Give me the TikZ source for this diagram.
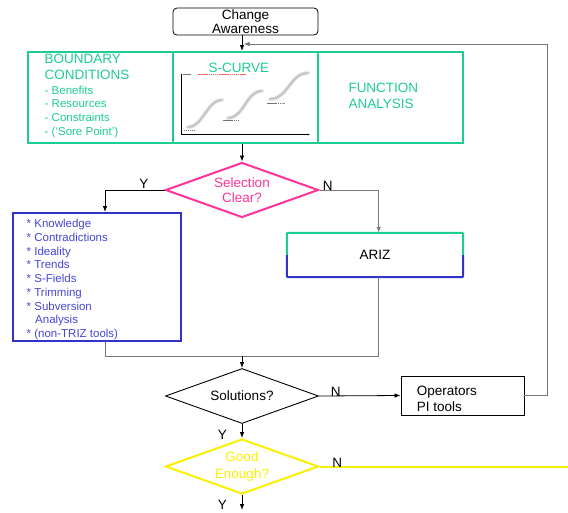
\documentclass[tikz,border=0pt]{standalone}
\usepackage{fontspec}
\setmainfont{Liberation Sans}
\usetikzlibrary{shapes.geometric,arrows.meta}
\definecolor{tealc}{RGB}{30,204,150}
\definecolor{pinkc}{RGB}{255,51,153}
\definecolor{bluec}{RGB}{51,51,204}
\definecolor{bluet}{RGB}{70,70,215}
\definecolor{yellowc}{RGB}{250,240,0}
\definecolor{linec}{RGB}{120,120,120}
\newcommand{\bigtxt}{\fontsize{13.5}{15.2}\selectfont}
\newcommand{\smalltxt}{\fontsize{11.5}{13.75}\selectfont}
\begin{document}
\begin{tikzpicture}[x=1pt,y=-1pt,
  tip/.style={-{Latex[length=6pt,width=4.5pt]}},
  conn/.style={draw=black, line width=0.8pt},
  gconn/.style={draw=linec, line width=1pt},
  tealbox/.style={draw=tealc, line width=2pt, minimum width=145pt, minimum height=91pt, inner sep=0pt},
  txt/.style={inner sep=0pt, font=\bigtxt},
  lbl/.style={inner sep=0pt, font=\bigtxt, anchor=base},
  dia/.style={diamond, aspect=2.8, minimum width=153pt, minimum height=55pt, inner sep=0pt, align=center, font=\bigtxt},
  curve/.style={line cap=round},
  scrib/.style={line width=0.7pt, dash pattern=on 1.5pt off 0.6pt}
]
\useasboundingbox (0,0) rectangle (568,512);

% start node
\node[draw=black, line width=0.8pt, rounded corners=4pt, minimum width=145pt, minimum height=27pt,
      inner sep=0pt, align=center, font=\bigtxt] (aware) at (245.5,21.5) {Change\\[-1pt]Awareness};

% three teal panels
\node[tealbox] (bc) at (100.5,97.5) {};
\node[tealbox] (sc) at (245.5,97.5) {};
\node[tealbox] (fa) at (390.5,97.5) {};

\node[txt, anchor=north west, align=left, text=tealc] (bctitle) at (44.5,54.3)
  {BOUNDARY\\CONDITIONS};
\node[inner sep=0pt, font=\smalltxt, anchor=north west, align=left, text=tealc] (bclist) at (44.5,85.6)
  {- Benefits\\- Resources\\- Constraints\\- (‘Sore Point’)};
\node[lbl, text=tealc] (sctitle) at (239,72) {S-CURVE};
\node[inner sep=0pt, font=\fontsize{13.5}{16.3}\selectfont, anchor=north west, align=left, text=tealc] (fatitle) at (348.3,83)
  {FUNCTION\\ANALYSIS};

% small S-curve chart
\draw[line width=1pt] (181.5,74) -- (181.5,134.5) -- (308,134.5);
\draw[line width=0.6pt, -{Latex[length=2.5pt,width=2pt]}] (300,134.5) -- (310,134.5);
\foreach \p/\q/\c/\d in {{188,127}/{222,100}/{203,127}/{207,100},
                         {228,118}/{262,91}/{244,118}/{246,91},
                         {270,99}/{308,73}/{288,99}/{290,73}}{
  \draw[curve, gray!12, line width=4.5pt] (\p) .. controls (\c) and (\d) .. (\q);
  \draw[curve, gray!30, line width=2.8pt] (\p) .. controls (\c) and (\d) .. (\q);
  \draw[curve, gray!50, line width=1.2pt] (\p) .. controls (\c) and (\d) .. (\q);
}
\draw[scrib, black!55] (183.5,130.5) -- (194.5,130.5);
\draw[scrib, black!55] (223,120) -- (238,120);
\draw[scrib, black!55] (267,103) -- (281,103);
\draw[line width=0.5pt, black!40, dash pattern=on 0.6pt off 0.8pt] (281.5,103) -- (285,103);
\draw[scrib, black!55] (183,74.7) -- (190.5,74.7);
\draw[scrib, red!60] (198,74.7) -- (245.5,74.7);

% decisions
\node[dia, draw=pinkc, line width=2pt, text=pinkc] (sel) at (242,190) {Selection\\Clear?};
\node[dia, draw=black, line width=0.9pt] (sol) at (242,396) {Solutions?};
\node[dia, draw=yellowc, line width=2pt, text=yellowc] (good) at (242,466.5) {Good\\[1.5pt]Enough?};

% tool list box
\node[draw=bluec, line width=2pt, minimum width=168pt, minimum height=128pt, inner sep=0pt] (tools) at (96.8,277) {};
\node[inner sep=0pt, font=\smalltxt, anchor=north west, align=left, text=bluet] (toolslist) at (26.5,219)
  {* Knowledge\\* Contradictions\\* Ideality\\* Trends\\* S-Fields\\* Trimming\\* Subversion\\\hspace*{8.5pt}Analysis\\* (non-TRIZ tools)};

% ARIZ box with two-coloured outline
\node[minimum width=176pt, minimum height=44pt, inner sep=0pt, font=\bigtxt] (ariz) at (375,255) {\raisebox{-1.5pt}{ARIZ}};
\draw[tealc, line width=2pt, rounded corners=1pt] (ariz.west) -- (ariz.north west) -- (ariz.north east) -- (ariz.east);
\draw[bluec, line width=2pt, rounded corners=1pt] (ariz.west) -- (ariz.south west) -- (ariz.south east) -- (ariz.east);

% operators box
\node[draw=black, line width=0.9pt, minimum width=123pt, minimum height=39pt, inner sep=0pt] (ops) at (462.5,395.5) {};
\node[inner sep=0pt, font=\bigtxt, anchor=north west, align=left] (opstext) at (416.7,385.8)
  {Operators\\[0.6pt]PI tools};

% junction points
\coordinate (fbend) at (243.5,44);
\coordinate (yturn) at (105,190);
\coordinate (ajoin) at (378.7,356);
\coordinate (merge) at (242,356);
\coordinate (gedge) at (568,466.5);

% connectors
\draw[conn, tip] (aware.south -| sel.north) -- (sel.north |- sc.north);
\draw[gconn, tip] (ops.east) -- ++(23,0) |- (fbend);
\draw[conn, tip] (sel.north |- sc.south) -- (sel.north);
\draw[conn, tip] (sel.west) -- (yturn) -- (yturn |- tools.north);
\draw[gconn, tip] (sel.east) -| (ajoin |- ariz.north);
\draw[gconn] (yturn |- tools.south) |- (ajoin) -- (ajoin |- ariz.south);
\draw[conn, tip] (merge) -- (sol.north);
\draw[conn, tip] (sol.east) -- (ops.west);
\draw[conn, tip] (sol.south) -- (good.north);
\draw[yellowc, line width=2pt] (good.east) -- (gedge);
\draw[conn, tip] (good.south) -- ++(0,15);

% branch labels
\node[lbl] (ysel) at (144,188.7) {Y};
\node[lbl] (nsel) at (327.7,190) {N};
\node[lbl] (nsol) at (335.7,396.7) {N};
\node[lbl] (ysol) at (222.3,439.3) {Y};
\node[lbl] (ngood) at (337.3,467.3) {N};
\node[lbl] (ygood) at (222.3,509.3) {Y};
\end{tikzpicture}
\end{document}
